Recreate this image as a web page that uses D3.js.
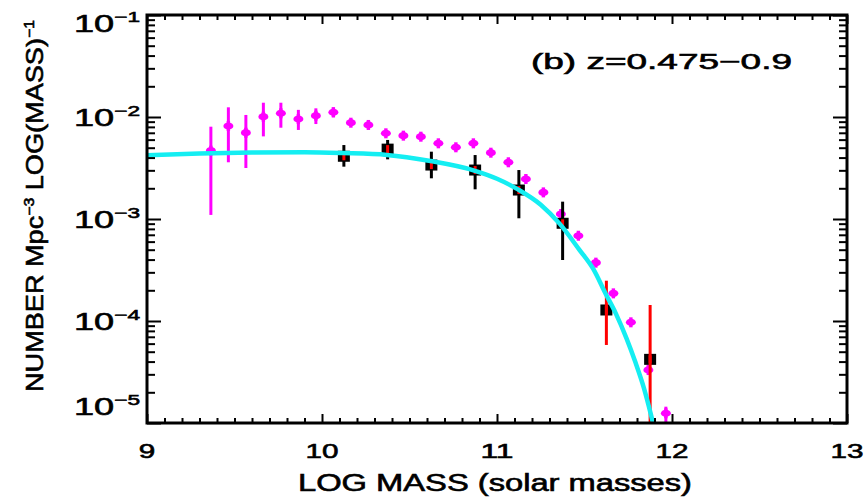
<!DOCTYPE html>
<html>
<head>
<meta charset="utf-8">
<script src="https://cdn.jsdelivr.net/npm/d3@7"></script>
<style>
  body { margin: 0; background: #fff; }
  svg { display: block; }
  text { font-family: "Liberation Sans", Arial, sans-serif; fill: #000; stroke: #000; stroke-width: 0.6px; }
</style>
</head>
<body>
<div id="chart"></div>
<script>
// magenta points (log mass, log10 number density, error bar ends)
const magMass = [9.365, 9.465, 9.565, 9.665, 9.765, 9.865, 9.965, 10.065, 10.165, 10.265,
  10.365, 10.465, 10.565, 10.665, 10.765, 10.865, 10.965, 11.065, 11.165, 11.265,
  11.365, 11.465, 11.565, 11.665, 11.765, 11.865, 11.965];
const magLog = [-2.33, -2.088, -2.154, -1.997, -1.964, -2.02, -1.987, -1.954, -2.056, -2.078,
  -2.16, -2.183, -2.193, -2.258, -2.297, -2.258, -2.35, -2.444, -2.608, -2.739,
  -2.951, -3.164, -3.428, -3.729, -4.013, -4.48, -4.905];
const magHi = [-2.095, -1.905, -1.98, -1.86, -1.86, -1.93, -1.915, -1.905, null, null,
  null, null, null, null, null, null, null, null, null, null,
  null, null, null, null, null, -4.43, -4.84];
const magLo = [-2.96, -2.444, -2.50, -2.19, -2.105, -2.127, -2.069, -2.003, null, null,
  null, null, null, null, null, null, null, null, null, null,
  null, null, null, null, null, -4.53, -4.99];

// black squares
const sqMass = [10.125, 10.375, 10.625, 10.875, 11.125, 11.375, 11.625, 11.875];
const sqLog = [-2.385, -2.315, -2.471, -2.52, -2.716, -3.042, -3.892, -4.376];
const sqHi = [-2.275, -2.225, -2.34, -2.373, -2.52, -2.83, -3.605, -3.843];
const sqLo = [-2.487, -2.415, -2.601, -2.709, -2.993, -3.402, -4.235, -5.1];
const sqBarColor = ["#000", "#000", "#000", "#000", "#000", "#000", "#f00", "#f00"];

// cyan fit curve
const fitMass = [9.0, 9.3, 9.6, 9.9, 10.12, 10.37, 10.62, 10.87, 11.0, 11.12, 11.25,
  11.36, 11.47, 11.55, 11.62, 11.68, 11.74, 11.79, 11.84, 11.88, 11.9];
const fitLog = [-2.375, -2.358, -2.349, -2.346, -2.354, -2.372, -2.432, -2.525, -2.605, -2.71, -2.86,
  -3.05, -3.30, -3.49, -3.73, -3.93, -4.17, -4.40, -4.66, -4.92, -5.06];

const xTicks = [9, 10, 11, 12, 13];
const yExp = [-1, -2, -3, -4, -5];
const titleText = "(b)  z=0.475\u22120.9";

const W = 865, H = 497;
const margin = { top: 15, right: 18, bottom: 74, left: 147 };
const iw = W - margin.left - margin.right;
const ih = H - margin.top - margin.bottom;

const svg = d3.select("#chart").append("svg")
  .attr("width", W).attr("height", H);

const g = svg.append("g")
  .attr("transform", "translate(" + margin.left + "," + margin.top + ")");

const x = d3.scaleLinear().domain([9, 13]).range([0, iw]);
const y = d3.scaleLog().domain([1e-5, 1e-1]).range([ih, 0]);
const p = v => Math.pow(10, v);

g.append("clipPath").attr("id", "clip")
  .append("rect").attr("width", iw).attr("height", ih);

const plot = g.append("g").attr("clip-path", "url(#clip)");

// magenta error bars + markers
const mag = magMass.map((m, i) => ({ m: m, v: magLog[i], hi: magHi[i], lo: magLo[i] }));
plot.selectAll(".merr")
  .data(mag.filter(d => d.hi !== null))
  .join("line")
  .attr("x1", d => x(d.m)).attr("x2", d => x(d.m))
  .attr("y1", d => y(p(d.hi))).attr("y2", d => y(p(d.lo)))
  .attr("stroke", "#ff00ff").attr("stroke-width", 3);
plot.selectAll(".mpt")
  .data(mag)
  .join("ellipse")
  .attr("cx", d => x(d.m)).attr("cy", d => y(p(d.v)))
  .attr("rx", 5).attr("ry", 3.6)
  .attr("fill", "#ff00ff");
plot.selectAll(".mvt")
  .data(mag)
  .join("rect")
  .attr("x", d => x(d.m) - 1.7).attr("y", d => y(p(d.v)) - 5)
  .attr("width", 3.4).attr("height", 10)
  .attr("fill", "#ff00ff");

// black squares with error bars
const sq = sqMass.map((m, i) => ({ m: m, v: sqLog[i], hi: sqHi[i], lo: sqLo[i], c: sqBarColor[i] }));
plot.selectAll(".sqbox")
  .data(sq)
  .join("rect")
  .attr("x", d => x(d.m) - 6).attr("y", d => y(p(d.v)) - 5.5)
  .attr("width", 12).attr("height", 11)
  .attr("fill", "#000");
plot.selectAll(".sqerr")
  .data(sq)
  .join("line")
  .attr("x1", d => x(d.m)).attr("x2", d => x(d.m))
  .attr("y1", d => y(p(d.hi))).attr("y2", d => y(p(d.lo)))
  .attr("stroke", d => d.c).attr("stroke-width", 3);
plot.selectAll(".sqred")
  .data(sq)
  .join("line")
  .attr("x1", d => x(d.m)).attr("x2", d => x(d.m))
  .attr("y1", d => y(p(d.v)) - 4).attr("y2", d => y(p(d.v)) + 4)
  .attr("stroke", "#f00").attr("stroke-width", 3);

// fit curve
const fit = fitMass.map((m, i) => [m, fitLog[i]]);
plot.append("path")
  .datum(fit)
  .attr("fill", "none")
  .attr("stroke", "#14eef2")
  .attr("stroke-width", 4.5)
  .attr("d", d3.line()
    .x(d => x(d[0]))
    .y(d => y(p(d[1])))
    .curve(d3.curveMonotoneX));

// axes: ticks point inward on all four sides
const xMinor = d3.range(9, 13.001, 0.1).filter(v => Math.abs(v - Math.round(v)) > 0.01);
const yAll = y.ticks();
const yMajor = yExp.map(p);
const yMinor = yAll.filter(v => !yMajor.some(t => Math.abs(t - v) / t < 1e-6));

function tickAxis(axis, vals, size, tr) {
  g.append("g")
    .attr("transform", tr)
    .call(axis.tickValues(vals).tickSize(-size).tickFormat(""))
    .call(s => s.select(".domain").remove())
    .call(s => s.selectAll("line").attr("stroke", "#000").attr("stroke-width", 2));
}
tickAxis(d3.axisBottom(x), xMinor, 5, "translate(0," + ih + ")");
tickAxis(d3.axisBottom(x), xTicks, 9, "translate(0," + ih + ")");
tickAxis(d3.axisTop(x), xMinor, 5, "translate(0,0)");
tickAxis(d3.axisTop(x), xTicks, 9, "translate(0,0)");
tickAxis(d3.axisLeft(y), yMinor, 8, "translate(0,0)");
tickAxis(d3.axisLeft(y), yMajor, 14, "translate(0,0)");
tickAxis(d3.axisRight(y), yMinor, 8, "translate(" + iw + ",0)");
tickAxis(d3.axisRight(y), yMajor, 14, "translate(" + iw + ",0)");

g.append("rect")
  .attr("width", iw).attr("height", ih)
  .attr("fill", "none").attr("stroke", "#000").attr("stroke-width", 3);

// x tick labels
g.selectAll(".xl")
  .data(xTicks)
  .join("text")
  .attr("x", d => x(d)).attr("y", ih + 35)
  .attr("text-anchor", "middle")
  .attr("font-size", 21)
  .attr("textLength", d => String(d).length * 16.5)
  .attr("lengthAdjust", "spacingAndGlyphs")
  .text(d => d);

// y tick labels 10^n
const yl = svg.selectAll(".yl")
  .data(yExp)
  .join("text")
  .attr("x", 74)
  .attr("y", d => Math.max(23, Math.min(406, margin.top + y(p(d)))) + 9)
  .attr("textLength", 66)
  .attr("lengthAdjust", "spacingAndGlyphs");
yl.append("tspan").attr("font-size", 24).text("10");
yl.append("tspan").attr("font-size", 15).attr("dy", -10).text(d => "\u2212" + (-d));

// x axis title
svg.append("text")
  .attr("x", 495).attr("y", 491)
  .attr("text-anchor", "middle")
  .attr("font-size", 23)
  .attr("textLength", 394)
  .attr("lengthAdjust", "spacingAndGlyphs")
  .text("LOG MASS (solar masses)");

// y axis title
const yt = svg.append("text")
  .attr("transform", "translate(43,206) rotate(-90)")
  .attr("text-anchor", "middle")
  .attr("font-size", 24)
  .attr("textLength", 372)
  .attr("lengthAdjust", "spacingAndGlyphs");
yt.append("tspan").text("NUMBER Mpc");
yt.append("tspan").attr("font-size", 14).attr("dy", -9).text("\u22123");
yt.append("tspan").attr("dy", 9).text(" LOG(MASS)");
yt.append("tspan").attr("font-size", 14).attr("dy", -9).text("\u22121");

// panel label
svg.append("text")
  .attr("x", 531).attr("y", 69)
  .attr("font-size", 22)
  .attr("textLength", 261)
  .attr("lengthAdjust", "spacingAndGlyphs")
  .text(titleText);
</script>
</body>
</html>
